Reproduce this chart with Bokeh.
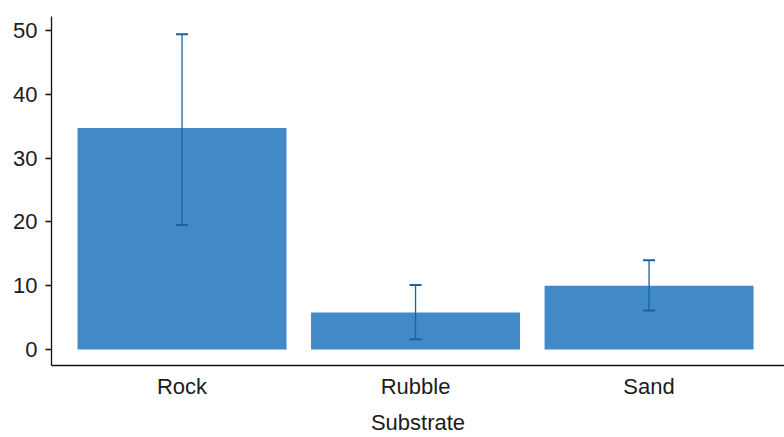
from bokeh.plotting import figure
from bokeh.models import ColumnDataSource, Range1d, SingleIntervalTicker, FixedTicker
from bokeh.embed import file_html
from bokeh.resources import INLINE

categories = ["Rock", "Rubble", "Sand"]
means = [34.7, 5.8, 10.0]
lower = [19.5, 1.6, 6.1]
upper = [49.4, 10.1, 14.0]
x_title = "Substrate"

FONT = "Liberation Sans"
TXT = "#1c1c1c"
BAR = "#4289c8"
ERR = "#1565a6"

# category slots on a numeric scale (slot centres)
xpos = [i + 0.5 for i in range(len(categories))]

source = ColumnDataSource(dict(x=xpos, cat=categories, mean=means, lower=lower, upper=upper))

p = figure(width=784, height=437, output_backend="svg", toolbar_location=None,
           x_range=Range1d(-0.059, 3.08), y_range=Range1d(-2.52, 52.2))
p.min_border_top = 16
p.min_border_left = 51
p.min_border_right = 0
p.min_border_bottom = 0
p.outline_line_color = None
p.xgrid.grid_line_color = None
p.ygrid.grid_line_color = None
p.background_fill_color = "white"
p.border_fill_color = "white"

p.vbar(x="x", top="mean", bottom=0, width=0.895, source=source,
       fill_color=BAR, line_color=None)

# error bars (drawn above the bars)
p.segment(x0="x", y0="lower", x1="x", y1="upper", source=source,
          line_color=ERR, line_width=1.3)
p.scatter(x="x", y="upper", source=source, marker="dash", size=12,
          line_color=ERR, line_width=2)
p.scatter(x="x", y="lower", source=source, marker="dash", size=12,
          line_color=ERR, line_width=2)

# y axis
ya = p.yaxis[0]
ya.ticker = SingleIntervalTicker(interval=10)
ya.minor_tick_line_color = None
ya.major_tick_out = 6
ya.major_tick_in = 0
ya.axis_line_color = "#111111"
ya.axis_line_width = 1.3
ya.major_tick_line_color = "#111111"
ya.major_tick_line_width = 1.3
ya.major_label_text_font = FONT
ya.major_label_text_font_size = "22px"
ya.major_label_text_color = TXT
ya.major_label_standoff = 8

# x axis: category names as tick labels
xa = p.xaxis[0]
xa.ticker = FixedTicker(ticks=xpos)
xa.major_label_overrides = {x: c for x, c in zip(xpos, categories)}
xa.major_tick_line_color = None
xa.minor_tick_line_color = None
xa.major_tick_out = 0
xa.major_tick_in = 0
xa.axis_line_color = "#111111"
xa.axis_line_width = 1.3
xa.major_label_text_font = FONT
xa.major_label_text_font_size = "22px"
xa.major_label_text_color = TXT
xa.major_label_standoff = 8
xa.axis_label = x_title
xa.axis_label_text_font = FONT
xa.axis_label_text_font_size = "22px"
xa.axis_label_text_font_style = "normal"
xa.axis_label_text_color = TXT
xa.axis_label_standoff = 8

open("out.html", "w").write(file_html(p, INLINE))
